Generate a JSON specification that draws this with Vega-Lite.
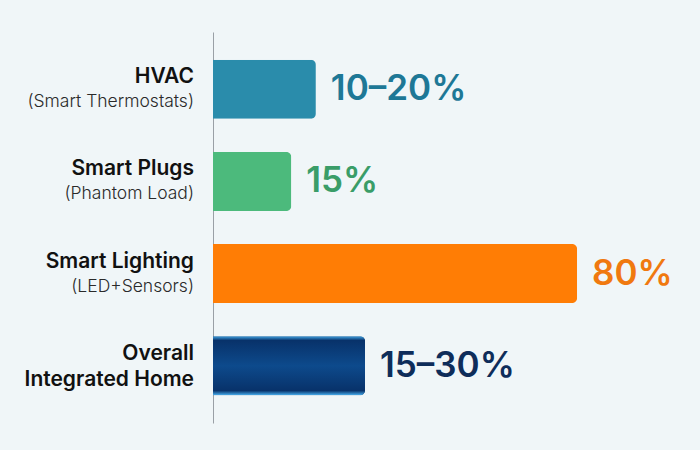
{
  "$schema": "https://vega.github.io/schema/vega-lite/v6.json",
  "width": 487,
  "height": 391,
  "autosize": {"type": "none"},
  "padding": {"left": 213, "top": 32, "right": 0, "bottom": 27},
  "background": "#f0f6f8",
  "data": {
    "values": [
      {"key": "HVAC", "line1": "HVAC", "line2": "(Smart Thermostats)", "value": 22.6, "pct": "10–20%"},
      {"key": "Smart Plugs", "line1": "Smart Plugs", "line2": "(Phantom Load)", "value": 17.2, "pct": "15%"},
      {"key": "Smart Lighting", "line1": "Smart Lighting", "line2": "(LED+Sensors)", "value": 80, "pct": "80%"},
      {"key": "Overall", "line1": "Overall", "line2": "Integrated Home", "value": 33.4, "pct": "15–30%"}
    ]
  },
  "encoding": {
    "y": {
      "field": "key",
      "type": "nominal",
      "sort": null,
      "scale": {"paddingInner": 0.36, "paddingOuter": 0.3},
      "axis": {"labels": false, "ticks": false, "title": null, "grid": false, "domainColor": "#9aa0a6", "domainWidth": 1}
    }
  },
  "layer": [
    {
      "mark": {"type": "bar", "cornerRadiusEnd": 5},
      "encoding": {
        "x": {"field": "value", "type": "quantitative", "scale": {"domain": [0, 107], "nice": false}, "axis": null},
        "color": {
          "field": "key",
          "type": "nominal",
          "legend": null,
          "scale": {
            "domain": ["HVAC", "Smart Plugs", "Smart Lighting", "Overall"],
            "range": ["#2a8cab", "#4cba7c", "#ff7d05", "#0a3a70"]
          }
        }
      }
    },
    {
      "transform": [{"filter": "datum.key === 'Overall'"}],
      "mark": {
        "type": "bar",
        "cornerRadiusEnd": 5,
        "color": {
          "x1": 0, "y1": 0, "x2": 0, "y2": 1,
          "gradient": "linear",
          "stops": [
            {"offset": 0, "color": "#3fa2e2"},
            {"offset": 0.07, "color": "#08326a"},
            {"offset": 0.5, "color": "#0d4a8c"},
            {"offset": 0.92, "color": "#08326a"},
            {"offset": 1, "color": "#4ab2f2"}
          ]
        }
      },
      "encoding": {
        "x": {"field": "value", "type": "quantitative"}
      }
    },
    {
      "mark": {"type": "text", "font": "Inter", "fontSize": 35, "fontWeight": 600, "align": "left", "baseline": "middle", "dx": 15},
      "encoding": {
        "x": {"field": "value", "type": "quantitative"},
        "text": {"field": "pct"},
        "color": {
          "field": "key",
          "type": "nominal",
          "legend": null,
          "scale": {
            "domain": ["HVAC", "Smart Plugs", "Smart Lighting", "Overall"],
            "range": ["#1e7896", "#3a9d68", "#f0790f", "#0e2d5a"]
          }
        }
      }
    },
    {
      "mark": {"type": "text", "font": "Inter", "fontSize": 21, "fontWeight": 600, "align": "right", "baseline": "middle", "dx": -19, "dy": -12, "color": "#111111"},
      "encoding": {
        "x": {"datum": 0},
        "text": {"field": "line1"}
      }
    },
    {
      "transform": [{"filter": "datum.key !== 'Overall'"}],
      "mark": {"type": "text", "font": "Inter", "fontSize": 17.5, "fontWeight": 300, "align": "right", "baseline": "middle", "dx": -19, "dy": 13, "color": "#2a2a2a"},
      "encoding": {
        "x": {"datum": 0},
        "text": {"field": "line2"}
      }
    },
    {
      "transform": [{"filter": "datum.key === 'Overall'"}],
      "mark": {"type": "text", "font": "Inter", "fontSize": 21, "fontWeight": 600, "align": "right", "baseline": "middle", "dx": -19, "dy": 14, "color": "#111111"},
      "encoding": {
        "x": {"datum": 0},
        "text": {"field": "line2"}
      }
    }
  ],
  "resolve": {"scale": {"color": "independent"}},
  "config": {"view": {"stroke": null}}
}
